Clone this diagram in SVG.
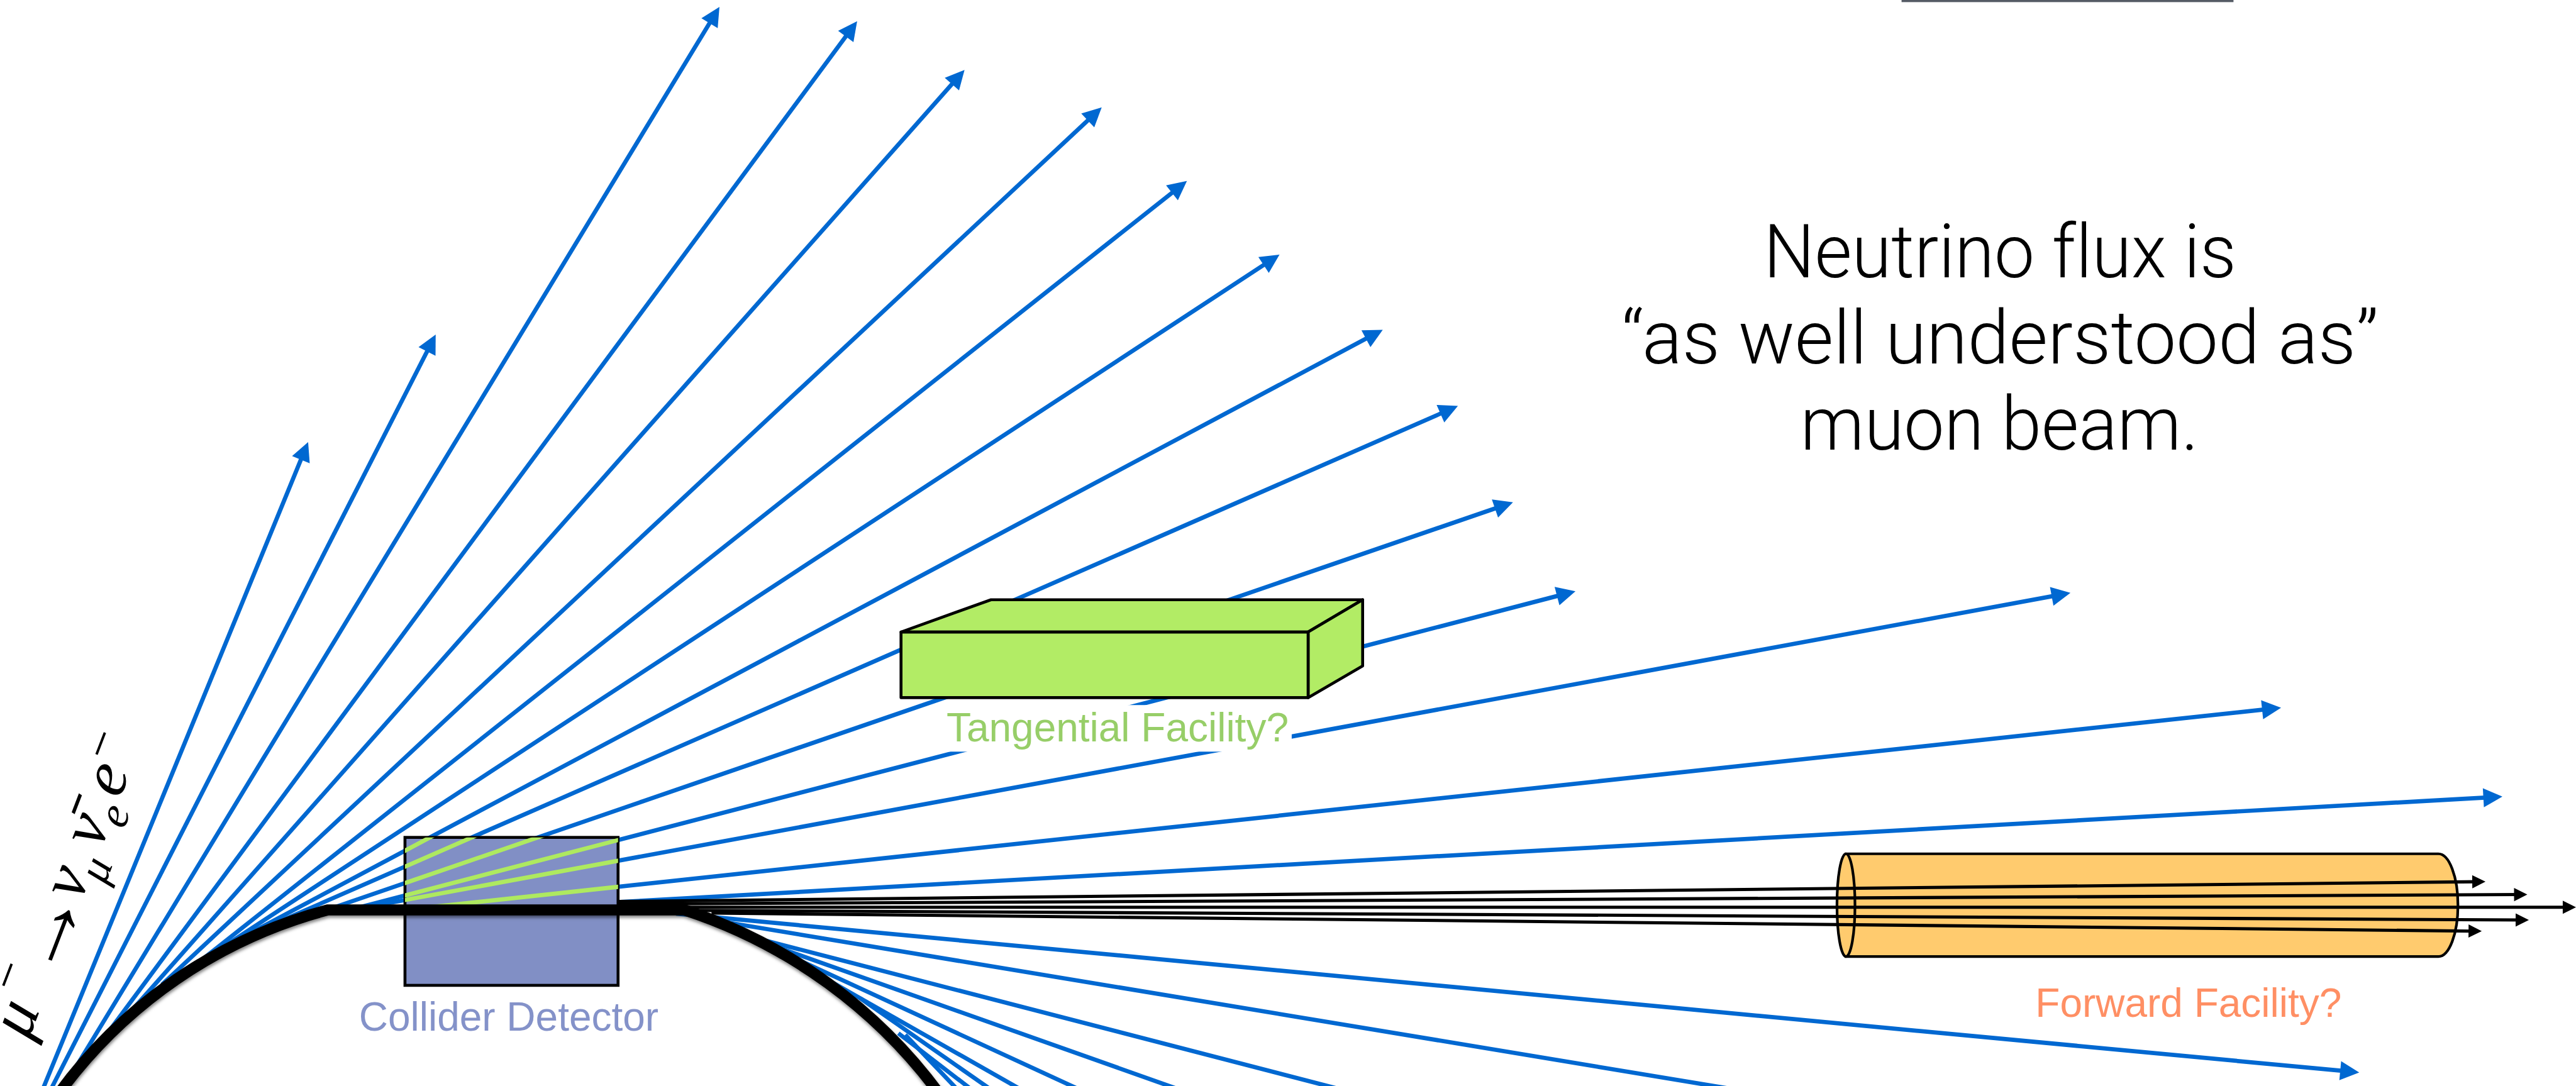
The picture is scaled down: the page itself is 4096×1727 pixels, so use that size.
<svg xmlns="http://www.w3.org/2000/svg" width="4096" height="1727" viewBox="0 0 4096 1727">
<style>
.b{stroke:#0068d1;stroke-width:8;fill:none}
.ba{marker-end:url(#ab)}
.k{stroke:#000;stroke-width:6;fill:none;marker-end:url(#ak)}
.g{stroke:#aee960;stroke-width:8;fill:none}
.lbl{font-family:"Liberation Sans",Arial,sans-serif;font-size:76px;text-anchor:middle}
.main{font-family:Roboto,"Liberation Sans",sans-serif;font-weight:300;font-size:140px;text-anchor:middle;fill:#000;font-variant-ligatures:none}
.m{font-family:"Liberation Serif","Times New Roman",serif;font-style:italic;fill:#000;text-anchor:middle}
.box{fill:#b2ec65;stroke:#000;stroke-width:5.5;stroke-linejoin:round}
.cy{fill:#ffcb6e;stroke:#000;stroke-width:5}
</style>
<defs>
<marker id="ab" markerUnits="userSpaceOnUse" markerWidth="36" markerHeight="36" refX="14" refY="18" orient="auto" overflow="visible"><path d="M0,0L36,18L0,36Z" fill="#0068d1"/></marker>
<marker id="ak" markerUnits="userSpaceOnUse" markerWidth="25" markerHeight="25" refX="11" refY="12.5" orient="auto" overflow="visible"><path d="M0,0L25,12.5L0,25Z" fill="#000"/></marker>
<clipPath id="dc"><rect x="765" y="1582" width="402.5" height="279.5"/></clipPath>
<filter id="sh" x="-5%" y="-5%" width="110%" height="110%"><feDropShadow dx="1" dy="4" stdDeviation="3" flood-color="#000" flood-opacity=".5"/></filter>
</defs>
<rect width="4096" height="1727" fill="#fff"/>
<g transform="scale(0.84176)">
<g id="connectors-neutrinos">
<line class="b ba" x1="75" y1="2072" x2="573.7" y2="855.4"/>
<line class="b ba" x1="89" y1="2072" x2="813" y2="651.6"/>
<line class="b ba" x1="141" y1="2020" x2="1347.6" y2="31.8"/>
<line class="b ba" x1="189" y1="1971" x2="1606" y2="57.7"/>
<line class="b ba" x1="240" y1="1919" x2="1807.4" y2="148.5"/>
<line class="b ba" x1="306" y1="1860" x2="2065" y2="218"/>
<line class="b ba" x1="360" y1="1830" x2="2224.8" y2="355.6"/>
<line class="b ba" x1="385" y1="1813" x2="2398.6" y2="493"/>
<line class="b ba" x1="420" y1="1791" x2="2592.6" y2="633.3"/>
<line class="b ba" x1="480" y1="1762" x2="2733.8" y2="775.8"/>
<line class="b ba" x1="600" y1="1725" x2="2837.2" y2="956"/>
<line class="b ba" x1="660" y1="1719" x2="2954.7" y2="1122.5"/>
<line class="b ba" x1="680" y1="1716" x2="3889.4" y2="1124"/>
<line class="b ba" x1="772" y1="1718" x2="4287" y2="1339.3"/>
<line class="b ba" x1="1100" y1="1708" x2="4705" y2="1506.2"/>
<line class="b ba" x1="1277" y1="1726" x2="4434.6" y2="2024"/>
<line class="b" x1="1345" y1="1738" x2="3300" y2="2062"/>
<line class="b" x1="1400" y1="1765" x2="2548" y2="2062"/>
<line class="b" x1="1450" y1="1783" x2="2238" y2="2062"/>
<line class="b" x1="1490" y1="1805" x2="2047" y2="2062"/>
<line class="b" x1="1560" y1="1849" x2="1935" y2="2062"/>
<line class="b" x1="1625" y1="1886" x2="1877" y2="2062"/>
<line class="b" x1="1697" y1="1952" x2="1840" y2="2062"/>
<line class="b" x1="1710" y1="1955" x2="1812" y2="2062"/>
</g>
<g id="collider-detector">
<rect x="765" y="1582" width="402.5" height="279.5" fill="#818fc5" stroke="#000" stroke-width="5.5"/>
<g clip-path="url(#dc)">
<line class="g" x1="420" y1="1791" x2="2592.6" y2="633.3"/>
<line class="g" x1="480" y1="1762" x2="2733.8" y2="775.8"/>
<line class="g" x1="600" y1="1725" x2="2837.2" y2="956"/>
<line class="g" x1="660" y1="1719" x2="2954.7" y2="1122.5"/>
<line class="g" x1="680" y1="1716" x2="3889.4" y2="1124"/>
<line class="g" x1="772" y1="1718" x2="4287" y2="1339.3"/>
</g>
<text class="lbl" x="961" y="1947" fill="#8492c9">Collider Detector</text>
</g>
<g id="forward-facility">
<path class="cy" d="M3487,1613L4606,1613A37,97 0 0 1 4606,1807L3487,1807Z"/>
<ellipse class="cy" cx="3487" cy="1710" rx="17" ry="97"/>
<text class="lbl" x="4134" y="1921" fill="#ff8f64">Forward Facility?</text>
</g>
<g id="connectors-beam">
<line class="k" x1="1170" y1="1703" x2="4681" y2="1665.7"/>
<line class="k" x1="1170" y1="1708" x2="4760" y2="1690"/>
<line class="k" x1="1170" y1="1714" x2="4852" y2="1714"/>
<line class="k" x1="1300" y1="1720" x2="4763" y2="1738"/>
<line class="k" x1="1344" y1="1725" x2="4674" y2="1759"/>
</g>
<g id="muon-ring">
<path d="M108,2070A920,920 0 0 1 619,1719L1293,1719A974,974 0 0 1 1780,2074" fill="none" stroke="#000" stroke-width="21" filter="url(#sh)"/>
</g>
<g id="tangential-facility">
<rect x="1770" y="1332" width="670" height="88" fill="#fff"/>
<path class="box" d="M1702,1194L1872,1133L2574,1133L2471,1194Z"/>
<path class="box" d="M2471,1194L2574,1133L2574,1258L2471,1318Z"/>
<rect class="box" x="1702" y="1194" width="769" height="124"/>
<text class="lbl" x="2111" y="1401" fill="#97ce68">Tangential Facility?</text>
</g>
<g id="flux-note">
<text class="main" x="3778" y="524" textLength="893" lengthAdjust="spacingAndGlyphs">Neutrino flux is</text>
<text class="main" x="3778" y="687" textLength="1430" lengthAdjust="spacingAndGlyphs">“as well understood as”</text>
<text class="main" x="3777" y="849" textLength="752" lengthAdjust="spacingAndGlyphs">muon beam.</text>
</g>
<g id="decay-label" transform="translate(40,1923) rotate(-69)">
<text class="m" font-size="125"><tspan x="-4" y="28">μ</tspan><tspan x="66" y="-22" font-size="95">−</tspan><tspan x="172" y="40" font-size="170">→</tspan><tspan x="271" y="26">ν</tspan><tspan x="312" y="58" font-size="85">μ</tspan><tspan x="377" y="26">ν̄</tspan><tspan x="420" y="54" font-size="85">e</tspan><tspan x="480" y="26">e</tspan><tspan x="537" y="-14" font-size="95">−</tspan></text>
</g>
<rect id="top-bar" x="3592" y="-2" width="627" height="6" fill="#555b65"/>
</g>
</svg>
